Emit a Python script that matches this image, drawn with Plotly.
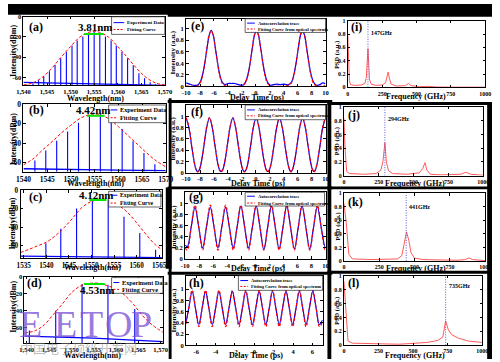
import plotly.graph_objects as go

W, H = 500, 362
SERIF = "Liberation Serif"

# ---------------- DATA ----------------
# (a) 147 GHz comb
a_wl = [1542.0, 1543.2, 1544.3, 1545.5, 1546.7, 1547.9, 1549.1, 1550.3, 1551.4, 1552.6, 1553.8, 1555.0,
        1556.2, 1557.4, 1558.6, 1559.7, 1560.9, 1562.1, 1563.3, 1564.5, 1565.7, 1566.9, 1568.0]
a_db = [-66, -63, -59, -54, -47.5, -41, -35, -28.5, -23.5, -19.5, -16, -15,
        -16, -19.5, -23.5, -28.5, -35, -41, -48, -56, -61, -65, -67]
a_fit_wl = [1540, 1542, 1544, 1546, 1548, 1550, 1552, 1554, 1555, 1556, 1558, 1560, 1562, 1564, 1566, 1568, 1570]
a_fit_db = [-67.5, -65.5, -60, -51, -40, -29.5, -20, -15.2, -14.5, -15.2, -20, -29.5, -40, -51, -60, -65.5, -67.5]
a_floor_wl = [1540, 1545, 1550, 1555, 1560, 1565, 1570]
a_floor_db = [-65, -65.5, -66, -66.5, -67, -67.5, -68]
a_bw_wl = [1552.9, 1557.0]
a_bw_db = [-17, -17]

# (b) 294 GHz comb
b_wl = [1542.4, 1544.7, 1547.0, 1549.3, 1551.6, 1553.9, 1556.2, 1558.5, 1560.8, 1563.1, 1565.4, 1567.7]
b_db = [-57.5, -47.5, -37.5, -28, -19, -11.5, -9.7, -18, -25.5, -38, -50, -61.5]
b_fit_wl = [1540, 1542, 1544, 1546, 1548, 1550, 1552, 1554, 1555, 1556, 1558, 1560, 1562, 1564, 1566, 1568, 1570]
b_fit_db = [-62, -56, -47, -38.5, -29.5, -21.5, -14.5, -10.7, -10.2, -10.7, -15, -23, -32, -41, -50, -58, -64]
b_floor_wl = [1540, 1550, 1560, 1570]
b_floor_db = [-66, -67, -67.5, -68]
b_bw_wl = [1553.4, 1557.1]
b_bw_db = [-12, -12]

# (c) 441 GHz comb
c_wl = [1539.9, 1543.2, 1546.7, 1550.2, 1553.7, 1557.2, 1560.7, 1564.2]
c_db = [-57, -41.5, -19.5, -9, -11.3, -28.5, -46, -64]
c_fit_wl = [1534.3, 1536, 1538, 1540, 1542, 1544, 1546, 1548, 1550, 1552, 1554, 1556, 1558, 1560, 1562, 1564, 1565.6]
c_fit_db = [-67, -64, -60, -56, -49, -40, -29, -18, -12, -10, -11, -16, -24, -35, -47, -58, -64]
c_floor_wl = [1534.3, 1550, 1565.6]
c_floor_db = [-71, -71.5, -72.5]
c_bw_wl = [1549.5, 1553.3]
c_bw_db = [-10.5, -10.5]

# (d) 735 GHz comb
d_wl = [1540.6, 1546.5, 1552.4, 1558.2, 1564.2]
d_db = [-63, -40, -8.5, -9.5, -38]
d_fit_wl = [1539.5, 1542, 1544, 1546, 1548, 1550, 1552, 1554, 1555.3, 1556.5, 1558, 1560, 1562, 1564, 1566, 1568, 1570.5]
d_fit_db = [-66, -63, -56, -44, -32, -19, -11, -8, -7.5, -8, -10.5, -14.5, -22, -33, -46, -56, -65]
d_floor_wl = [1539.5, 1555, 1570.5]
d_floor_db = [-69.5, -72, -76]
d_bw_wl = [1552.8, 1557.5]
d_bw_db = [-8.5, -8.5]

bandwidth_labels = ["3.81nm", "4.42nm", "4.12nm", "4.53nm"]

# (e)-(h) autocorrelation: (delay ps, autocorrelation trace, fitting curve)
e_pts = [(-10, 0.06, 0.01), (-9.5, 0.04, 0.0), (-9.0, 0.02, 0.0), (-8.4, 0.02, 0.01), (-8.0, 0.07, 0.06),
         (-7.6, 0.22, 0.21), (-7.3, 0.42, 0.42), (-7.0, 0.66, 0.67), (-6.7, 0.88, 0.89), (-6.4, 0.97, 0.96),
         (-6.1, 0.88, 0.88), (-5.8, 0.66, 0.65), (-5.5, 0.42, 0.41), (-5.2, 0.22, 0.2), (-4.8, 0.07, 0.05),
         (-4.4, 0.03, 0.01), (-4.0, 0.05, 0.0), (-3.5, 0.05, 0.0), (-3.0, 0.05, 0.0), (-2.5, 0.03, 0.0),
         (-1.9, 0.02, 0.01), (-1.5, 0.07, 0.06), (-1.1, 0.22, 0.21), (-0.8, 0.42, 0.42), (-0.5, 0.66, 0.67),
         (-0.2, 0.88, 0.89), (0.1, 0.97, 0.96), (0.4, 0.88, 0.88), (0.7, 0.66, 0.65), (1.0, 0.42, 0.41),
         (1.3, 0.22, 0.2), (1.7, 0.07, 0.05), (2.1, 0.02, 0.01), (2.6, 0.03, 0.0), (3.0, 0.04, 0.0),
         (3.5, 0.03, 0.0), (4.0, 0.04, 0.0), (4.4, 0.03, 0.01), (4.7, 0.03, 0.02), (5.1, 0.07, 0.06),
         (5.5, 0.22, 0.21), (5.8, 0.42, 0.42), (6.1, 0.66, 0.67), (6.4, 0.88, 0.89), (6.7, 0.97, 0.96),
         (7.0, 0.88, 0.88), (7.3, 0.66, 0.65), (7.6, 0.42, 0.41), (7.9, 0.22, 0.2), (8.3, 0.07, 0.05),
         (8.7, 0.02, 0.01), (9.2, 0.03, 0.0), (9.6, 0.06, 0.01), (10, 0.04, 0.01)]

f_pts = [(-10, 0.97, 0.98), (-9.6, 0.8, 0.81), (-9.2, 0.47, 0.48), (-8.8, 0.16, 0.17), (-8.55, 0.05, 0.05),
         (-8.33, 0.02, 0.01), (-8.1, 0.05, 0.05), (-7.85, 0.16, 0.17), (-7.45, 0.47, 0.48), (-7.05, 0.8, 0.81),
         (-6.65, 0.97, 0.98), (-6.25, 0.8, 0.81), (-5.85, 0.47, 0.48), (-5.45, 0.16, 0.17), (-5.2, 0.05, 0.05),
         (-4.98, 0.02, 0.01), (-4.75, 0.05, 0.05), (-4.5, 0.16, 0.17), (-4.1, 0.47, 0.48), (-3.7, 0.8, 0.81),
         (-3.3, 0.97, 0.98), (-2.9, 0.8, 0.81), (-2.5, 0.47, 0.48), (-2.1, 0.16, 0.17), (-1.85, 0.05, 0.05),
         (-1.63, 0.02, 0.01), (-1.4, 0.05, 0.05), (-1.15, 0.16, 0.17), (-0.75, 0.47, 0.48), (-0.35, 0.8, 0.81),
         (0.05, 0.97, 0.98), (0.45, 0.8, 0.81), (0.85, 0.47, 0.48), (1.25, 0.16, 0.17), (1.5, 0.05, 0.05),
         (1.72, 0.02, 0.01), (1.95, 0.05, 0.05), (2.2, 0.16, 0.17), (2.6, 0.47, 0.48), (3.0, 0.8, 0.81),
         (3.4, 0.97, 0.98), (3.8, 0.8, 0.81), (4.2, 0.47, 0.48), (4.6, 0.16, 0.17), (4.85, 0.05, 0.05),
         (5.05, 0.02, 0.01), (5.25, 0.05, 0.05), (5.5, 0.16, 0.17), (5.9, 0.47, 0.48), (6.3, 0.8, 0.81),
         (6.7, 0.97, 0.98), (7.1, 0.8, 0.81), (7.5, 0.47, 0.48), (7.9, 0.16, 0.17), (8.15, 0.05, 0.05),
         (8.35, 0.02, 0.01), (8.55, 0.05, 0.05), (8.8, 0.16, 0.17), (9.2, 0.47, 0.48), (9.6, 0.8, 0.81),
         (10, 0.97, 0.98)]

g_pts = [(-10.0, 0.25, 0.20), (-9.69, 0.22, 0.16), (-9.145, 0.57, 0.57), (-8.6, 0.93, 0.97), (-8.055, 0.57, 0.57),
         (-7.51, 0.20, 0.16), (-6.965, 0.57, 0.57), (-6.42, 0.93, 0.97), (-5.875, 0.57, 0.57), (-5.33, 0.20, 0.16),
         (-4.785, 0.57, 0.57), (-4.24, 0.93, 0.97), (-3.695, 0.57, 0.57), (-3.15, 0.20, 0.16), (-2.605, 0.57, 0.57),
         (-2.06, 0.95, 0.97), (-1.515, 0.57, 0.57), (-0.97, 0.20, 0.16), (-0.425, 0.57, 0.57), (0.12, 0.95, 0.97),
         (0.665, 0.57, 0.57), (1.21, 0.17, 0.16), (1.755, 0.57, 0.57), (2.3, 0.95, 0.97), (2.845, 0.57, 0.57),
         (3.39, 0.18, 0.16), (3.935, 0.57, 0.57), (4.48, 0.95, 0.97), (5.025, 0.57, 0.57), (5.57, 0.18, 0.16),
         (6.115, 0.57, 0.57), (6.66, 0.95, 0.97), (7.205, 0.57, 0.57), (7.75, 0.18, 0.16), (8.295, 0.57, 0.57),
         (8.84, 0.94, 0.97), (9.385, 0.57, 0.57), (9.93, 0.22, 0.16), (10.0, 0.23, 0.17)]

h_pts = [(-7.05, 0.42, 0.38), (-6.776, 0.66, 0.66), (-6.43, 0.96, 0.98), (-6.084, 0.66, 0.66), (-5.738, 0.37, 0.33),
         (-5.391, 0.66, 0.66), (-5.045, 0.96, 0.98), (-4.699, 0.66, 0.66), (-4.353, 0.37, 0.33), (-4.006, 0.66, 0.66),
         (-3.66, 0.96, 0.98), (-3.314, 0.66, 0.66), (-2.968, 0.37, 0.33), (-2.621, 0.66, 0.66), (-2.275, 0.96, 0.98),
         (-1.929, 0.66, 0.66), (-1.583, 0.37, 0.33), (-1.236, 0.66, 0.66), (-0.89, 0.96, 0.98), (-0.544, 0.66, 0.66),
         (-0.198, 0.37, 0.33), (0.149, 0.66, 0.66), (0.495, 0.96, 0.98), (0.841, 0.66, 0.66), (1.187, 0.37, 0.33),
         (1.534, 0.66, 0.66), (1.88, 0.96, 0.98), (2.226, 0.66, 0.66), (2.572, 0.37, 0.33), (2.919, 0.66, 0.66),
         (3.265, 0.96, 0.98), (3.611, 0.66, 0.66), (3.957, 0.37, 0.33), (4.304, 0.66, 0.66), (4.65, 0.96, 0.98),
         (4.996, 0.66, 0.66), (5.342, 0.37, 0.33), (5.689, 0.66, 0.66), (6.035, 0.96, 0.98), (6.381, 0.66, 0.66),
         (6.727, 0.37, 0.33), (7.05, 0.45, 0.42)]

# (i)-(l) PSD
i_f = [0, 5, 12, 20, 50, 100, 125, 135, 147, 158, 170, 200, 250, 275, 287, 294, 302, 315, 350, 420,
       441, 460, 520, 588, 650, 735, 800, 1000]
i_psd = [0.78, 0.45, 0.1, 0.04, 0.03, 0.035, 0.06, 0.15, 0.58, 0.12, 0.05, 0.03, 0.035, 0.07, 0.15, 0.23,
         0.14, 0.05, 0.02, 0.025, 0.06, 0.025, 0.01, 0.015, 0.005, 0.008, 0.003, 0.003]
j_f = [0, 8, 20, 40, 150, 230, 265, 280, 294, 305, 320, 350, 450, 540, 565, 582, 595, 620, 700, 840, 875, 910, 1000]
j_psd = [0.83, 0.4, 0.06, 0.03, 0.02, 0.03, 0.08, 0.2, 0.48, 0.2, 0.07, 0.03, 0.02, 0.04, 0.1, 0.19, 0.08,
         0.02, 0.01, 0.02, 0.05, 0.02, 0.005]
k_f = [0, 15, 35, 60, 200, 380, 410, 430, 443, 460, 475, 500, 560, 800, 860, 885, 910, 1000]
k_psd = [0.85, 0.6, 0.1, 0.03, 0.02, 0.03, 0.08, 0.3, 0.43, 0.3, 0.12, 0.04, 0.02, 0.01, 0.02, 0.045, 0.02, 0.005]
l_f = [0, 15, 30, 60, 200, 400, 600, 680, 715, 735, 755, 780, 830, 900, 1000]
l_psd = [0.92, 0.5, 0.06, 0.03, 0.02, 0.015, 0.04, 0.07, 0.12, 0.35, 0.22, 0.15, 0.1, 0.06, 0.04]
rep_rates = [147, 294, 441, 735]
rep_labels = ["147GHz", "294GHz", "441GHz", "735GHz"]

# tick values / labels
wl_ticks_a = [1540, 1545, 1550, 1555, 1560, 1565, 1570]
wl_labels_comma = ["1,540", "1,545", "1,550", "1,555", "1,560", "1,565", "1,570"]
wl_labels_plain = ["1540", "1545", "1550", "1555", "1560", "1565", "1570"]
wl_ticks_c = [1535, 1540, 1545, 1550, 1555, 1560, 1565]
wl_labels_c = ["1535", "1540", "1545", "1550", "1555", "1560", "1565"]
db_ticks = [0, -20, -40, -60]
db_labels = ["0", "-20", "-40", "-60"]
t_ticks = [-10, -8, -6, -4, -2, 0, 2, 4, 6, 8, 10]
t_labels = ["-10", "-8", "-6", "-4", "-2", "0", "2", "4", "6", "8", "10"]
t_ticks_h = [-6, -4, -2, 0, 2, 4, 6]
t_labels_h = ["-6", "-4", "-2", "0", "2", "4", "6"]
u_ticks = [0, 0.2, 0.4, 0.6, 0.8, 1]
u_labels = ["0", "0.2", "0.4", "0.6", "0.8", "1"]
f_ticks = [0, 250, 500, 750, 1000]
f_labels = ["0", "250", "500", "750", "1000"]

# ---------------- LAYOUT GEOMETRY (pixels: x0, y0, x1, y1) ----------------
GEOM = {
    'a': (16, 13, 162, 83), 'b': (16, 102, 163, 171), 'c': (13, 190, 159, 259), 'd': (17, 278, 160, 346),
    'e': (184, 15, 328, 84), 'f': (184, 103, 328, 172), 'g': (183, 192, 328, 260), 'h': (184, 277, 325, 348),
    'i': (351, 17, 493, 85), 'j': (347, 105, 491, 175), 'k': (347, 193, 493, 262), 'l': (347, 277, 490, 348),
}
AX = {
    'a': ([1540, 1570], [-68, 0], wl_ticks_a, wl_labels_comma, db_ticks, db_labels, 6.5),
    'b': ([1540, 1570], [-69, 0], wl_ticks_a, wl_labels_plain, db_ticks, db_labels, 7.5),
    'c': ([1534.3, 1565.6], [-73, 0], wl_ticks_c, wl_labels_c, db_ticks, db_labels, 7.2),
    'd': ([1539.5, 1570.5], [-78, 0], wl_ticks_a, wl_labels_comma, db_ticks, db_labels, 6.5),
    'e': ([-10, 10], [0, 1.17], t_ticks, t_labels, u_ticks, u_labels, 6.5),
    'f': ([-10, 10], [0, 1.2], t_ticks, t_labels, u_ticks, u_labels, 6.5),
    'g': ([-10, 10], [0, 1.2], t_ticks, t_labels, u_ticks, u_labels, 6.5),
    'h': ([-7.05, 7.05], [0, 1.24], t_ticks_h, t_labels_h, u_ticks, u_labels, 6.5),
    'i': ([0, 1000], [0, 1], f_ticks, f_labels, u_ticks, u_labels, 6),
    'j': ([0, 1000], [0, 1], f_ticks, f_labels, u_ticks, u_labels, 6),
    'k': ([0, 1000], [0, 1], f_ticks, f_labels, u_ticks, u_labels, 6),
    'l': ([0, 1000], [0, 1], f_ticks, f_labels, u_ticks, u_labels, 6),
}
KEYS = 'abcdefghijkl'


def px_x(x):
    return x / W


def px_y(y):
    return 1 - y / H


def refs(key):
    n = KEYS.index(key) + 1
    return ('x', 'y') if n == 1 else (f'x{n}', f'y{n}')


fig = go.Figure()
layout = dict(width=W, height=H, margin=dict(l=0, r=0, t=0, b=0),
              paper_bgcolor='white', plot_bgcolor='white', showlegend=False)

for key in KEYS:
    n = KEYS.index(key) + 1
    xr, yr, xt, xtl, yt, ytl, fs = AX[key]
    x0, y0, x1, y1 = GEOM[key]
    xa, ya = refs(key)
    common = dict(showline=True, linecolor='black', linewidth=1, mirror='ticks', ticks='inside',
                  ticklen=2.5, tickwidth=0.6, tickcolor='black', showgrid=False, zeroline=False,
                  tickfont=dict(family=SERIF, size=fs, color='black', weight='bold'), fixedrange=True)
    layout['xaxis' if n == 1 else f'xaxis{n}'] = dict(domain=[px_x(x0), px_x(x1)], anchor=ya, range=xr,
                                                     tickvals=xt, ticktext=xtl, **common)
    layout['yaxis' if n == 1 else f'yaxis{n}'] = dict(domain=[px_y(y1), px_y(y0)], anchor=xa, range=yr,
                                                     tickvals=yt, ticktext=ytl, **common)

BLUE = 'rgb(0,0,255)'
RED = 'rgb(255,0,0)'

# comb spectra panels
combs = [('a', a_wl, a_db, a_fit_wl, a_fit_db, a_floor_wl, a_floor_db, a_bw_wl, a_bw_db),
         ('b', b_wl, b_db, b_fit_wl, b_fit_db, b_floor_wl, b_floor_db, b_bw_wl, b_bw_db),
         ('c', c_wl, c_db, c_fit_wl, c_fit_db, c_floor_wl, c_floor_db, c_bw_wl, c_bw_db),
         ('d', d_wl, d_db, d_fit_wl, d_fit_db, d_floor_wl, d_floor_db, d_bw_wl, d_bw_db)]
for key, wl, db, fwl, fdb, flwl, fldb, bwl, bdb in combs:
    xa, ya = refs(key)
    ybot = AX[key][1][0]
    xs, ys = [], []
    for w, h in zip(wl, db):
        xs += [w, w, None]
        ys += [ybot, h, None]
    fig.add_trace(go.Scatter(x=flwl, y=fldb, mode='lines', line=dict(color=BLUE, width=1.3), xaxis=xa, yaxis=ya))
    fig.add_trace(go.Scatter(x=xs, y=ys, mode='lines', line=dict(color=BLUE, width=1.1), xaxis=xa, yaxis=ya))
    fig.add_trace(go.Scatter(x=fwl, y=fdb, mode='lines', line=dict(color=RED, width=1, dash='3px,2px', shape='spline'),
                             xaxis=xa, yaxis=ya))
    fig.add_trace(go.Scatter(x=bwl, y=bdb, mode='lines', line=dict(color='rgb(0,230,0)', width=2), xaxis=xa, yaxis=ya))

# autocorrelation panels
for key, pts in [('e', e_pts), ('f', f_pts), ('g', g_pts), ('h', h_pts)]:
    xa, ya = refs(key)
    t = [p[0] for p in pts]
    auto = [p[1] for p in pts]
    fit = [p[2] for p in pts]
    fig.add_trace(go.Scatter(x=t, y=auto, mode='lines', line=dict(color=BLUE, width=1.2, shape='spline'),
                             xaxis=xa, yaxis=ya))
    fig.add_trace(go.Scatter(x=t, y=fit, mode='lines', line=dict(color=RED, width=1.2, dash='3px,2px', shape='spline'),
                             xaxis=xa, yaxis=ya))

# PSD panels
annotations = []
for key, fr, ps, rr, lab in [('i', i_f, i_psd, rep_rates[0], rep_labels[0]), ('j', j_f, j_psd, rep_rates[1], rep_labels[1]),
                             ('k', k_f, k_psd, rep_rates[2], rep_labels[2]), ('l', l_f, l_psd, rep_rates[3], rep_labels[3])]:
    xa, ya = refs(key)
    fig.add_trace(go.Scatter(x=fr, y=ps, mode='lines', line=dict(color='rgb(255,90,90)', width=1),
                             xaxis=xa, yaxis=ya))
    fig.add_trace(go.Scatter(x=[rr, rr], y=[0, 1], mode='lines',
                             line=dict(color='rgb(70,70,220)', width=0.9, dash='1px,1.5px'), xaxis=xa, yaxis=ya))
    label_y = {'i': 0.82, 'j': 0.83, 'k': 0.8, 'l': 0.85}[key]
    annotations.append(dict(x=rr, y=label_y, xref=xa, yref=ya, text=f'<b>{lab}</b>', showarrow=False,
                            xanchor='left', yanchor='middle', xshift=1,
                            font=dict(family=SERIF, size=6, color='black')))

shapes = []


def text(x, y, s, size, anchor='center', angle=0, color='black', family=SERIF, bold=True):
    annotations.append(dict(x=px_x(x), y=px_y(y), xref='paper', yref='paper',
                            text=f'<b>{s}</b>' if bold else s, showarrow=False, xanchor=anchor,
                            yanchor='middle', textangle=angle,
                            font=dict(family=family, size=size, color=color)))


def legend(box, rows, fs, sample, labels):
    x0, y0, x1, y1 = box
    shapes.append(dict(type='rect', xref='paper', yref='paper', x0=px_x(x0), x1=px_x(x1),
                       y0=px_y(y1), y1=px_y(y0), fillcolor='white', line=dict(color='black', width=0.6),
                       layer='above'))
    for (yy, col, dash), lab in zip(rows, labels):
        shapes.append(dict(type='line', xref='paper', yref='paper', x0=px_x(x0 + 2), x1=px_x(x0 + 2 + sample),
                           y0=px_y(yy), y1=px_y(yy), line=dict(color=col, width=1, dash=dash), layer='above'))
        text(x0 + 3 + sample, yy, lab, fs, anchor='left')


comb_leg = ["Experiment Data", "Fitting Curve"]
ac_leg = ["Autocorrelation trace", "Fitting Curve from optical spectrum"]
legend((107, 13, 162, 31), [(19, BLUE, 'solid'), (26, RED, '2px,1.5px')], 5, 11, comb_leg)
legend((104, 103, 163, 121), [(108, BLUE, 'solid'), (116, RED, '2px,1.5px')], 6.3, 7, comb_leg)
legend((104, 191, 158, 207), [(195, BLUE, 'solid'), (203, RED, '2px,1.5px')], 5.7, 7, comb_leg)
legend((107, 279, 160, 295), [(284, BLUE, 'solid'), (291, RED, '2px,1.5px')], 6.2, 6, comb_leg)
legend((245, 15, 328, 29), [(19.5, BLUE, 'solid'), (25.5, RED, '2px,1.5px')], 4.5, 8, ac_leg)
legend((245, 103, 328, 118), [(108, BLUE, 'solid'), (114, RED, '2px,1.5px')], 4.5, 8, ac_leg)
legend((245, 192, 327, 206), [(196, BLUE, 'solid'), (203, RED, '2px,1.5px')], 4.5, 8, ac_leg)
legend((238, 277, 325, 292), [(282, BLUE, 'solid'), (288, RED, '2px,1.5px')], 4.5, 8, ac_leg)

# bandwidth labels
text(90, 23, bandwidth_labels[0], 11)
text(88, 108, bandwidth_labels[1], 11)
text(91, 195, bandwidth_labels[2], 11)
text(92, 292, bandwidth_labels[3], 11)

# panel letters
for key, (x, y) in {'a': (20, 23), 'b': (20, 108), 'c': (20, 197), 'd': (18, 285), 'e': (187, 22),
                    'f': (187, 110), 'g': (185, 197), 'h': (185, 285), 'i': (352, 23), 'j': (349, 113),
                    'k': (349, 202), 'l': (349, 285)}.items():
    text(x, y, f'({key})', 12, anchor='left')

# axis titles
for y in (48, 138, 224, 309):
    text(5, y, 'Intensity(dBm)', 8, angle=-90)
for x, y in ((90, 96), (90, 183), (87, 269), (87, 358)):
    text(x, y, 'Wavelength(nm)', 8)
for y in (50, 138, 228, 313):
    text(171, y, 'Intensity (a.u.)', 7, angle=-90)
for x, y in ((257, 95), (258, 183), (258, 270), (256, 358)):
    text(x, y, 'Delay Time (ps)', 8)
for y in (52, 140, 227, 313):
    text(340, y, 'PSD (a.u.)', 6.5, angle=-90)
for x, y in ((422, 94), (420, 183), (421, 270), (420, 358)):
    text(x, y, 'Frequency (GHz)', 8)

# black frame pieces of the composite
for (x0, y0, x1, y1) in [(0, 0, 500, 11), (165, 0, 500, 13), (166, 96, 169, 362), (163, 187, 169, 270),
                         (165, 98, 335, 101), (165, 186, 335, 189), (165, 273, 335, 276),
                         (330, 98, 334, 362), (330, 100, 500, 103), (330, 186, 500, 189), (330, 272, 500, 275),
                         (495, 100, 500, 362)]:
    shapes.append(dict(type='rect', xref='paper', yref='paper', x0=px_x(x0), x1=px_x(x1), y0=px_y(y1),
                       y1=px_y(y0), fillcolor='black', line=dict(width=0), layer='above'))

# watermark
for ch, x in (('E', 23), ('E', 59), ('T', 86), ('O', 114), ('P', 138)):
    text(x, 326, ch, 38, color='rgba(125,85,215,0.8)', bold=False)
text(73, 350, '中国电子顶级开发网', 13, color='rgba(140,140,140,0.55)', family='Noto Sans CJK SC', bold=False)

layout['shapes'] = shapes
layout['annotations'] = annotations
fig.update_layout(**layout)
fig.write_html("out.html", config={'displayModeBar': False},
               post_script="document.body.style.margin='0';document.body.style.overflow='hidden';")
